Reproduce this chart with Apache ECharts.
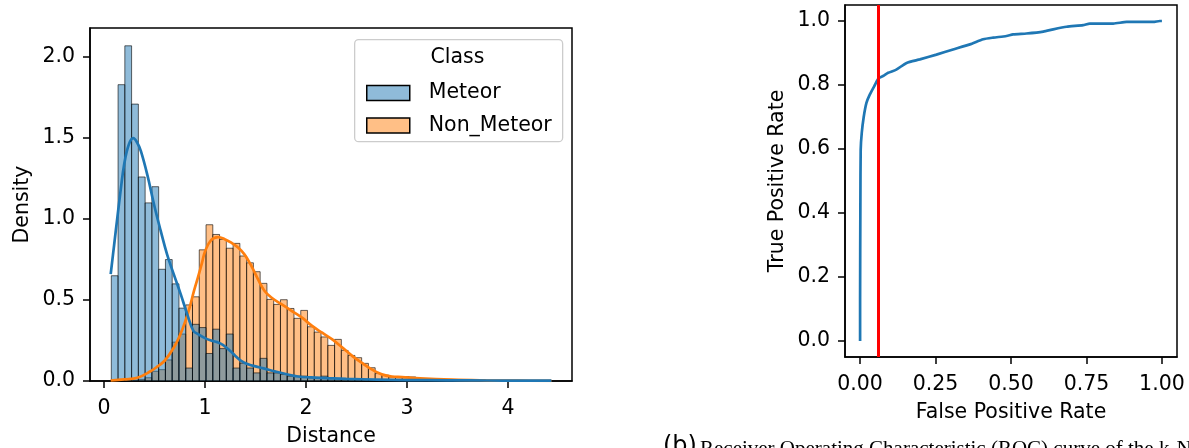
<!DOCTYPE html>
<html>
<head>
<meta charset="utf-8">
<title>Meteor distance histogram / ROC</title>
<script src="https://cdn.jsdelivr.net/npm/echarts@6/dist/echarts.min.js"></script>
<style>
  html, body { margin: 0; padding: 0; background: #fff; }
  #chart { width: 1189px; height: 448px; }
</style>
</head>
<body>
<div id="chart"></div>
<script>
// histogram bins, shared by both classes
const binStart = 0.072
const binWidth = 0.067
const meteorDensity = [
  0.65, 1.83, 2.07, 1.71, 1.26, 1.10, 1.20, 0.69, 0.75, 0.60,
  0.45, 0.08, 0.35, 0.33, 0.17, 0.32, 0.20, 0.29, 0.08, 0.11,
  0.08, 0.05, 0.14, 0.05, 0.05, 0.04, 0.03, 0.03, 0.03, 0.02,
  0.02, 0.03, 0.015, 0.015, 0.012, 0.01, 0.008, 0.01, 0.006, 0.006,
  0.008, 0.005, 0.005, 0.004, 0.004, 0.003, 0.002, 0.003, 0.002, 0.002,
  0.003, 0.002, 0.002, 0.001, 0.002, 0.002, 0.001, 0.002, 0.001, 0.001,
  0.002, 0.001, 0.001, 0.001, 0.001
]
const nonMeteorDensity = [
  0, 0, 0, 0.005, 0.01, 0.02, 0.06, 0.07, 0.13, 0.24,
  0.29, 0.47, 0.52, 0.81, 0.965, 0.905, 0.874, 0.82, 0.85, 0.772,
  0.73, 0.675, 0.603, 0.504, 0.473, 0.502, 0.448, 0.387, 0.436, 0.335,
  0.302, 0.272, 0.22, 0.257, 0.189, 0.158, 0.144, 0.109, 0.082, 0.046,
  0.036, 0.025, 0.025, 0.027, 0.025, 0.012, 0.010, 0.008, 0.007, 0.006,
  0.005, 0.004, 0.004, 0.003, 0.003, 0.002, 0.002, 0.002, 0.001, 0.001,
  0.001, 0.001, 0.001, 0.001, 0.001
]
// kde curves [distance, density]
const meteorKde = [
  [0.066, 0.66], [0.10, 0.84], [0.13, 1.00], [0.165, 1.18], [0.20, 1.34],
  [0.245, 1.46], [0.29, 1.50], [0.33, 1.47], [0.365, 1.42], [0.43, 1.27],
  [0.495, 1.09], [0.56, 0.93], [0.625, 0.78], [0.69, 0.66], [0.76, 0.535],
  [0.825, 0.41], [0.885, 0.31], [0.93, 0.29], [1.0, 0.265], [1.06, 0.25],
  [1.12, 0.24], [1.18, 0.222], [1.25, 0.185], [1.3, 0.155], [1.35, 0.128],
  [1.42, 0.105], [1.5, 0.09], [1.58, 0.078], [1.7, 0.058], [1.82, 0.04],
  [1.92, 0.028], [2.05, 0.022], [2.2, 0.018], [2.4, 0.013], [2.7, 0.009],
  [3.0, 0.006], [3.4, 0.004], [3.8, 0.003], [4.1, 0.002], [4.43, 0.002]
]
const nonMeteorKde = [
  [0.066, 0.003], [0.2, 0.01], [0.33, 0.02], [0.46, 0.06], [0.53, 0.09],
  [0.6, 0.125], [0.69, 0.205], [0.75, 0.28], [0.8, 0.36], [0.85, 0.46],
  [0.89, 0.555], [0.93, 0.64], [0.97, 0.73], [1.0, 0.80], [1.06, 0.87],
  [1.13, 0.889], [1.2, 0.874], [1.26, 0.854], [1.33, 0.823], [1.39, 0.782],
  [1.46, 0.71], [1.525, 0.628], [1.59, 0.556], [1.66, 0.514], [1.76, 0.473],
  [1.86, 0.432], [1.96, 0.391], [2.06, 0.34], [2.16, 0.298], [2.26, 0.257],
  [2.36, 0.206], [2.46, 0.154], [2.55, 0.113], [2.65, 0.072], [2.75, 0.041],
  [2.85, 0.028], [2.95, 0.024], [3.13, 0.016], [3.45, 0.008], [3.78, 0.004],
  [4.1, 0.002], [4.43, 0.001]
]
// roc curve
const fpr = [
  0, 0, 0.001, 0.002, 0.0055, 0.012, 0.021, 0.032, 0.049, 0.062,
  0.076, 0.093, 0.12, 0.154, 0.198, 0.253, 0.308, 0.364, 0.408, 0.441,
  0.485, 0.507, 0.551, 0.607, 0.64, 0.684, 0.739, 0.761, 0.839, 0.883,
  0.971, 0.993, 1.0
]
const tpr = [
  0, 0.127, 0.44, 0.598, 0.65, 0.70, 0.744, 0.77, 0.80, 0.822,
  0.828, 0.838, 0.848, 0.869, 0.88, 0.895, 0.911, 0.927, 0.943, 0.948,
  0.953, 0.958, 0.961, 0.967, 0.974, 0.982, 0.987, 0.992, 0.992, 0.997,
  0.997, 1.0, 1.0
]
const thresholdFpr = 0.062
// ticks
const distanceTicks = [0, 1, 2, 3, 4]
const densityTicks = [0, 0.5, 1, 1.5, 2]
const fprTicks = [0, 0.25, 0.5, 0.75, 1]
const tprTicks = [0, 0.2, 0.4, 0.6, 0.8, 1]

const FONT = 'DejaVu Sans'
const FS = 20.5

function toBars (values) {
  return values.map((h, i) => [binStart + i * binWidth, binStart + (i + 1) * binWidth, h])
}

function renderBar (params, api) {
  const p0 = api.coord([api.value(0), api.value(2)])
  const p1 = api.coord([api.value(1), 0])
  return {
    type: 'rect',
    shape: { x: p0[0], y: p0[1], width: p1[0] - p0[0], height: p1[1] - p0[1] },
    style: { fill: api.visual('color'), stroke: 'rgba(0,0,0,0.6)', lineWidth: 1 }
  }
}

function valueAxis (grid, min, max, ticks, digits, name, nameGap, isY) {
  return {
    type: 'value',
    gridIndex: grid,
    min: min,
    max: max,
    name: name,
    nameLocation: 'middle',
    nameGap: nameGap,
    nameTextStyle: { fontFamily: FONT, fontSize: FS, color: '#000' },
    axisLine: { show: true, onZero: false, lineStyle: { color: '#000', width: 1.5 } },
    axisTick: { show: true, inside: false, length: 7, lineStyle: { color: '#000', width: 1.5 }, customValues: ticks },
    axisLabel: {
      fontFamily: FONT, fontSize: FS, color: '#000', margin: isY ? 15 : 17,
      customValues: ticks,
      formatter: (v) => v.toFixed(digits)
    },
    splitLine: { show: false }
  }
}

const chart = echarts.init(document.getElementById('chart'))
const option = {
  animation: false,
  backgroundColor: '#fff',
  grid: [
    { left: 90, top: 28, width: 482, height: 353, show: true, borderColor: '#000', borderWidth: 1.5, outerBoundsMode: 'none' },
    { left: 845, top: 5, width: 332, height: 352, show: true, borderColor: '#000', borderWidth: 1.5, outerBoundsMode: 'none' }
  ],
  xAxis: [
    valueAxis(0, -0.139, 4.634, distanceTicks, 0, 'Distance', 45, false),
    valueAxis(1, -0.05, 1.05, fprTicks, 2, 'False Positive Rate', 45, false)
  ],
  yAxis: [
    valueAxis(0, 0, 2.18, densityTicks, 1, 'Density', 57, true),
    valueAxis(1, -0.05, 1.05, tprTicks, 1, 'True Positive Rate', 57, true)
  ],
  legend: {
    orient: 'vertical',
    left: 361,
    top: 76,
    itemWidth: 43,
    itemHeight: 15,
    itemGap: 8.5,
    selectedMode: false,
    icon: 'rect',
    textStyle: { fontFamily: FONT, fontSize: FS, color: '#000', lineHeight: 24, padding: [0, 0, 0, 14] },
    data: [
      { name: 'Meteor', itemStyle: { color: '#8fbbd9', borderColor: '#000', borderWidth: 1.5 } },
      { name: 'Non_Meteor', itemStyle: { color: '#ffbf86', borderColor: '#000', borderWidth: 1.5 } }
    ]
  },
  graphic: [
    {
      type: 'rect',
      left: 354, top: 39,
      shape: { width: 208, height: 102, r: 4 },
      style: { fill: 'rgba(255,255,255,0.8)', stroke: '#cccccc', lineWidth: 1.3 },
      z: 1
    },
    {
      type: 'text',
      x: 457.5, y: 58,
      style: { text: 'Class', font: FS + 'px "DejaVu Sans"', fill: '#000', align: 'center', verticalAlign: 'middle' },
      z: 2
    },
    {
      type: 'text',
      x: 663, y: 447,
      style: { text: '(b)', font: '24px "DejaVu Sans"', fill: '#000', align: 'left', verticalAlign: 'middle' }
    },
    {
      type: 'text',
      x: 700, y: 449,
      style: { text: 'Receiver Operating Characteristic (ROC) curve of the k-NN', font: '21px "Liberation Serif"', fill: '#000', align: 'left', verticalAlign: 'middle' }
    }
  ],
  series: [
    {
      name: 'Non_Meteor',
      type: 'custom',
      xAxisIndex: 0,
      yAxisIndex: 0,
      renderItem: renderBar,
      itemStyle: { color: 'rgba(255,127,14,0.5)' },
      encode: { x: [0, 1], y: 2 },
      data: toBars(nonMeteorDensity)
    },
    {
      name: 'Meteor',
      type: 'custom',
      xAxisIndex: 0,
      yAxisIndex: 0,
      renderItem: renderBar,
      itemStyle: { color: 'rgba(31,119,180,0.5)' },
      encode: { x: [0, 1], y: 2 },
      data: toBars(meteorDensity)
    },
    {
      name: 'Non_Meteor kde',
      type: 'line',
      xAxisIndex: 0,
      yAxisIndex: 0,
      smooth: 0.4,
      showSymbol: false,
      lineStyle: { color: '#ff7f0e', width: 2.7 },
      data: nonMeteorKde
    },
    {
      name: 'Meteor kde',
      type: 'line',
      xAxisIndex: 0,
      yAxisIndex: 0,
      smooth: 0.4,
      showSymbol: false,
      lineStyle: { color: '#1f77b4', width: 2.7 },
      data: meteorKde
    },
    {
      name: 'ROC',
      type: 'line',
      xAxisIndex: 1,
      yAxisIndex: 1,
      smooth: 0.2,
      showSymbol: false,
      lineStyle: { color: '#1f77b4', width: 2.7 },
      data: fpr.map((x, i) => [x, tpr[i]]),
      markLine: {
        silent: true,
        symbol: 'none',
        label: { show: false },
        lineStyle: { color: '#ff0000', width: 3, type: 'solid' },
        data: [{ xAxis: thresholdFpr }]
      }
    }
  ]
}
option && chart.setOption(option)
</script>
</body>
</html>
